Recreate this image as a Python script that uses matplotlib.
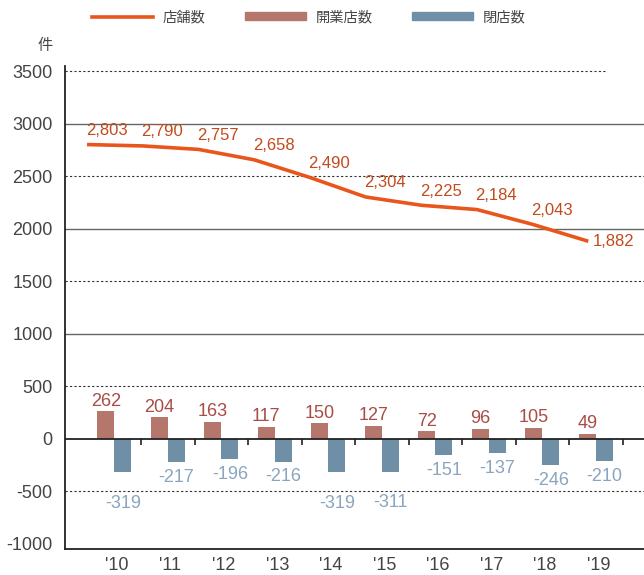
"""Store count trend with yearly openings and closings."""

import matplotlib

matplotlib.use("Agg")
import matplotlib.pyplot as plt
import numpy as np
from matplotlib.lines import Line2D
from matplotlib.patches import Patch

years = ["'10", "'11", "'12", "'13", "'14", "'15", "'16", "'17", "'18", "'19"]
stores = [2803, 2790, 2757, 2658, 2490, 2304, 2225, 2184, 2043, 1882]
openings = [262, 204, 163, 117, 150, 127, 72, 96, 105, 49]
closings = [-319, -217, -196, -216, -319, -311, -151, -137, -246, -210]
y_ticks = [3500, 3000, 2500, 2000, 1500, 1000, 500, 0, -500, -1000]

LINE_C = "#e8561c"
LINE_TXT = "#c24a1c"
OPEN_C = "#b5766c"
OPEN_TXT = "#a84c46"
CLOSE_C = "#6f8fa7"
CLOSE_TXT = "#8aa5bd"
NUM_FONT = ["Liberation Sans Narrow", "Liberation Sans", "DejaVu Sans"]
JP_FONT = ["Noto Sans CJK JP", "DejaVu Sans"]

plt.rcParams["font.family"] = NUM_FONT

fig = plt.figure(figsize=(6.44, 5.75), dpi=100)
ax = fig.add_axes([0.101, 0.045, 0.899, 0.84])
ax.set_xlim(-0.92, 9.9)
ax.set_ylim(-1050, 3550)

x = np.arange(len(years))
w = 0.32

# grid
xmin, xmax = ax.get_xlim()
for v in y_ticks:
    if v == 0 or v == -1000:
        continue
    if v % 1000 == 0:
        ax.axhline(v, color="#666666", lw=1.0, zorder=1)
    elif v == 3500:
        ax.hlines(v, xmin, 9.2, color="#333333", lw=0.8, linestyles=(0, (2, 2)), zorder=1)
    else:
        ax.axhline(v, color="#333333", lw=0.8, ls=(0, (2, 2)), zorder=1)

ax.bar(x - w / 2, openings, width=w, color=OPEN_C, zorder=2)
ax.bar(x + w / 2, closings, width=w, color=CLOSE_C, zorder=2)
ax.axhline(0, color="#222222", lw=1.3, zorder=3)
ax.vlines(x + 0.5, -60, 0, color="#222222", lw=1.2, zorder=3)

for i, v in enumerate(openings):
    ax.annotate(str(v), (x[i] - w / 2, v), xytext=(0, 4), textcoords="offset points",
                ha="center", va="baseline", fontsize=13, color=OPEN_TXT)
for i, v in enumerate(closings):
    # labels that would hit the -500 grid line go just under it
    dy = -5 if v > -300 else -16
    ax.annotate(str(v), (x[i] + w / 2, v), xytext=(0, dy), textcoords="offset points",
                ha="center", va="top", fontsize=13, color=CLOSE_TXT)

# store count line on its own x scale
ax2 = ax.twiny()
ax2.set_xlim(-0.395, 10.0)
ax2.axis("off")
ax2.plot(x, stores, color=LINE_C, lw=2.6, solid_capstyle="butt", zorder=4)
for i, v in enumerate(stores):
    if i == len(stores) - 1:
        off, ha, va = (3, 0), "left", "center"
    else:
        off, ha, va = (14, 7), "center", "baseline"
    ax2.annotate(f"{v:,}", (x[i], v), xytext=off, textcoords="offset points",
                 ha=ha, va=va, fontsize=12, color=LINE_TXT)

ax.set_yticks(y_ticks)
ax.set_yticklabels([str(v) for v in y_ticks], fontsize=13, color="#444444")
ax.set_xticks(x + 0.05)
ax.set_xticklabels(years, fontsize=13, color="#444444")
ax.tick_params(axis="y", length=0, pad=9)
ax.tick_params(axis="x", length=0, pad=6)
for s in ["top", "right"]:
    ax.spines[s].set_visible(False)
for s in ["left", "bottom"]:
    ax.spines[s].set_color("#222222")
    ax.spines[s].set_linewidth(1.3)

fig.text(0.07, 0.921, "件", fontsize=11, color="#444444", ha="center", va="center",
         family=JP_FONT)

handles = [
    Line2D([0], [0], color=LINE_C, lw=2.6),
    Patch(color=OPEN_C),
    Patch(color=CLOSE_C),
]
leg = fig.legend(handles, ["店舗数", "開業店数", "閉店数"], loc="center",
                 bbox_to_anchor=(0.479, 0.97), ncol=3, frameon=False,
                 prop={"family": JP_FONT, "size": 10.3}, handlelength=4.3,
                 handleheight=0.55, handletextpad=0.65, columnspacing=2.75)
for t in leg.get_texts():
    t.set_color("#444444")

fig.savefig("out.png", dpi=100)
